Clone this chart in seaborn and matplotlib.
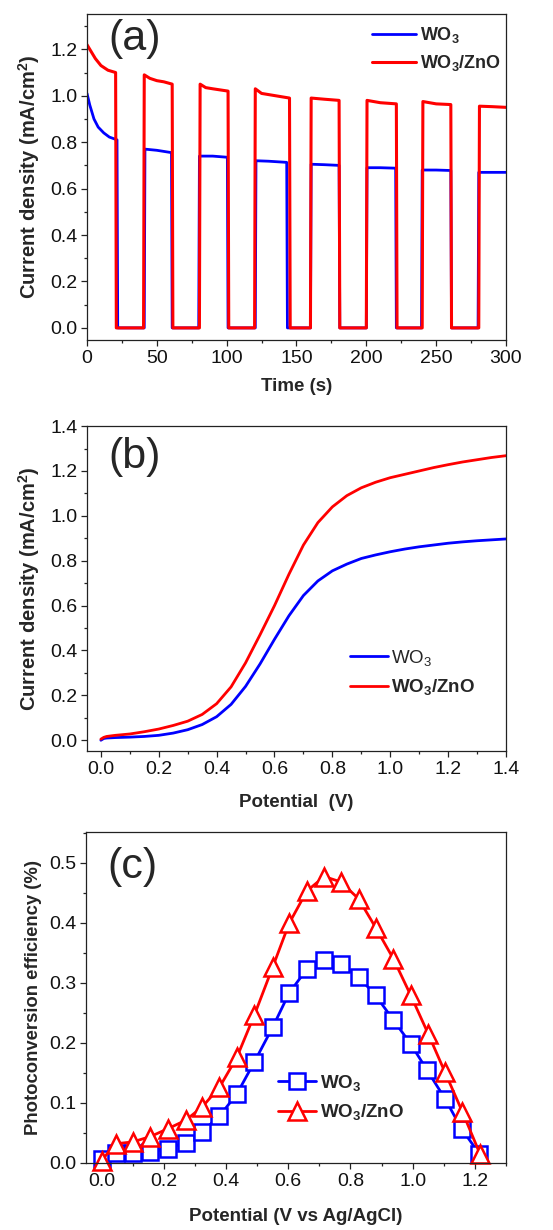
import numpy as np
import pandas as pd
import matplotlib
matplotlib.use("Agg")
import matplotlib.pyplot as plt
from matplotlib.ticker import MultipleLocator, FormatStrFormatter
import seaborn as sns

# ---------------- data ----------------
# (a) chopped-light transient (time s, current density mA/cm2)
t_wo3 = [0, 2, 5, 8, 12, 16, 21.5, 22, 41, 41.5, 50, 60.5, 61, 80, 80.5, 90, 100.5, 101,
         120.5, 121, 130, 143, 143.5, 160, 160.5, 170, 180.5, 181, 200, 200.5, 210, 221,
         221.5, 239.5, 240, 250, 260.5, 261, 280, 280.5, 290, 300]
j_wo3 = [1.01, 0.96, 0.90, 0.865, 0.84, 0.822, 0.81, 0.0, 0.0, 0.77, 0.765, 0.755, 0.0, 0.0,
         0.74, 0.74, 0.735, 0.0, 0.0, 0.72, 0.718, 0.713, 0.0, 0.0, 0.705, 0.703, 0.70, 0.0,
         0.0, 0.69, 0.69, 0.688, 0.0, 0.0, 0.68, 0.68, 0.678, 0.0, 0.0, 0.67, 0.67, 0.67]
t_zno = [0, 3, 6, 10, 15, 20.5, 21, 40.5, 41, 45, 50, 55, 61, 61.5, 80.5, 81, 85, 90, 101,
         101.5, 120, 120.5, 125, 135, 145, 145.5, 160, 160.5, 170, 180.5, 181, 200, 200.5,
         210, 221.5, 222, 240, 240.5, 250, 260.5, 261, 280.5, 281, 290, 300]
j_zno = [1.22, 1.19, 1.16, 1.13, 1.11, 1.10, 0.0, 0.0, 1.09, 1.075, 1.065, 1.06, 1.05, 0.0,
         0.0, 1.05, 1.035, 1.03, 1.02, 0.0, 0.0, 1.03, 1.01, 1.0, 0.99, 0.0, 0.0, 0.99, 0.985,
         0.98, 0.0, 0.0, 0.98, 0.97, 0.965, 0.0, 0.0, 0.975, 0.965, 0.962, 0.0, 0.0, 0.955,
         0.953, 0.95]

# (b) linear sweep voltammetry (potential V, current density mA/cm2)
v_lsv = [0.0, 0.01, 0.02, 0.05, 0.1, 0.15, 0.2, 0.25, 0.3, 0.35, 0.4, 0.45, 0.5, 0.55,
         0.6, 0.65, 0.7, 0.75, 0.8, 0.85, 0.9, 0.95, 1.0, 1.05, 1.1, 1.15, 1.2, 1.25, 1.3,
         1.35, 1.4]
j_lsv_wo3 = [0.0, 0.008, 0.010, 0.012, 0.014, 0.017, 0.022, 0.032, 0.047, 0.070, 0.105,
             0.160, 0.240, 0.340, 0.450, 0.555, 0.645, 0.710, 0.755, 0.785, 0.810, 0.826,
             0.840, 0.852, 0.862, 0.870, 0.878, 0.884, 0.889, 0.893, 0.897]
j_lsv_zno = [0.005, 0.013, 0.017, 0.022, 0.028, 0.038, 0.050, 0.066, 0.085, 0.115, 0.163,
             0.238, 0.345, 0.470, 0.600, 0.740, 0.870, 0.970, 1.040, 1.090, 1.125, 1.150,
             1.170, 1.185, 1.200, 1.215, 1.228, 1.240, 1.250, 1.260, 1.268]

# (c) photoconversion efficiency (potential V vs Ag/AgCl, %)
v_wo3 = [0.0, 0.045, 0.10, 0.157, 0.213, 0.27, 0.323, 0.379, 0.435, 0.491, 0.55, 0.603,
         0.66, 0.716, 0.769, 0.826, 0.881, 0.938, 0.994, 1.047, 1.104, 1.157, 1.214]
eff_wo3 = [0.007, 0.017, 0.016, 0.018, 0.024, 0.034, 0.052, 0.078, 0.115, 0.168, 0.226,
           0.283, 0.323, 0.338, 0.331, 0.310, 0.279, 0.238, 0.198, 0.154, 0.107, 0.057, 0.0155]
v_zno = [0.0, 0.045, 0.10, 0.157, 0.213, 0.27, 0.323, 0.379, 0.435, 0.491, 0.55, 0.603,
         0.66, 0.716, 0.769, 0.826, 0.881, 0.938, 0.994, 1.05, 1.104, 1.16, 1.216]
eff_zno = [0.004, 0.032, 0.035, 0.044, 0.057, 0.071, 0.093, 0.126, 0.176, 0.246, 0.326,
           0.399, 0.453, 0.477, 0.468, 0.44, 0.392, 0.34, 0.279, 0.215, 0.151, 0.085, 0.0155]

label_wo3 = r"WO$_3$"
label_zno = r"WO$_3$/ZnO"
BLUE = "#0000FF"
RED = "#FF0000"

# ---------------- style ----------------
sns.set_theme(style="ticks")
plt.rcParams['font.family'] = ['Liberation Sans', 'DejaVu Sans']
plt.rcParams['mathtext.default'] = 'regular'

fig = plt.figure(figsize=(5.53, 12.30), dpi=100)
ax_a = fig.add_axes([0.1573, 0.7236, 0.7577, 0.2650])
ax_b = fig.add_axes([0.1573, 0.3894, 0.7577, 0.2642])
ax_c = fig.add_axes([0.1555, 0.0545, 0.7595, 0.2690])

TICK_FS = 14
LAB_FS = 13.5


def style_axes(ax):
    for s in ax.spines.values():
        s.set_visible(True)
        s.set_linewidth(0.9)
        s.set_color('#222222')
    ax.tick_params(which='major', direction='out', length=4, width=0.9,
                   labelsize=TICK_FS, colors='#222222', labelcolor='#111111', pad=3)
    ax.tick_params(which='minor', direction='out', length=2.5, width=0.9, colors='#222222')
    ax.tick_params(top=False, right=False, which='both')


# ---- (a)
df_a1 = pd.DataFrame({"t": t_wo3, "j": j_wo3})
df_a2 = pd.DataFrame({"t": t_zno, "j": j_zno})
sns.lineplot(data=df_a1, x="t", y="j", ax=ax_a, sort=False, estimator=None,
             color=BLUE, lw=2.0, label=label_wo3)
sns.lineplot(data=df_a2, x="t", y="j", ax=ax_a, sort=False, estimator=None,
             color=RED, lw=2.2, label=label_zno)
ax_a.set_xlim(0, 300)
ax_a.set_ylim(-0.052, 1.352)
ax_a.xaxis.set_major_locator(MultipleLocator(50))
ax_a.xaxis.set_minor_locator(MultipleLocator(25))
ax_a.yaxis.set_major_locator(MultipleLocator(0.2))
ax_a.yaxis.set_minor_locator(MultipleLocator(0.1))
ax_a.yaxis.set_major_formatter(FormatStrFormatter('%.1f'))
ax_a.set_xlabel("Time (s)", fontsize=LAB_FS, fontweight='bold', labelpad=8)
ax_a.set_ylabel("Current density (mA/cm$^2$)", fontsize=14.5, fontweight='bold', labelpad=6)
style_axes(ax_a)
ax_a.text(0.05, 0.985, "(a)", transform=ax_a.transAxes, fontsize=31, va='top', ha='left')
ax_a.legend(loc='upper left', bbox_to_anchor=(0.655, 1.0), frameon=False,
            handlelength=2.4, handletextpad=0.25, labelspacing=0.45,
            borderaxespad=0.2, prop={'size': 13, 'weight': 'bold'})

# ---- (b)
df_b = pd.DataFrame({"v": v_lsv, "w": j_lsv_wo3, "z": j_lsv_zno})
sns.lineplot(data=df_b, x="v", y="w", ax=ax_b, color=BLUE, lw=2.0, label=label_wo3)
sns.lineplot(data=df_b, x="v", y="z", ax=ax_b, color=RED, lw=2.0, label=label_zno)
ax_b.set_xlim(-0.048, 1.4)
ax_b.set_ylim(-0.048, 1.4)
ax_b.xaxis.set_major_locator(MultipleLocator(0.2))
ax_b.xaxis.set_minor_locator(MultipleLocator(0.1))
ax_b.yaxis.set_major_locator(MultipleLocator(0.2))
ax_b.yaxis.set_minor_locator(MultipleLocator(0.1))
ax_b.xaxis.set_major_formatter(FormatStrFormatter('%.1f'))
ax_b.yaxis.set_major_formatter(FormatStrFormatter('%.1f'))
ax_b.set_xlabel("Potential  (V)", fontsize=LAB_FS, fontweight='bold', labelpad=12)
ax_b.set_ylabel("Current density (mA/cm$^2$)", fontsize=14.5, fontweight='bold', labelpad=6)
style_axes(ax_b)
ax_b.text(0.05, 0.965, "(b)", transform=ax_b.transAxes, fontsize=31, va='top', ha='left')
leg_b = ax_b.legend(loc='upper left', bbox_to_anchor=(0.61, 0.34), frameon=False,
                    handlelength=2.0, handletextpad=0.2, labelspacing=0.5,
                    borderaxespad=0.0, prop={'size': 13.5})
for txt in leg_b.get_texts():
    if "ZnO" in txt.get_text():
        txt.set_fontweight('bold')

# ---- (c)
df_c1 = pd.DataFrame({"v": v_wo3, "e": eff_wo3})
df_c2 = pd.DataFrame({"v": v_zno, "e": eff_zno})
sns.lineplot(data=df_c1, x="v", y="e", ax=ax_c, color=BLUE, lw=2.0, marker='s',
             markersize=11, markerfacecolor='white', markeredgecolor=BLUE,
             markeredgewidth=1.8, clip_on=False, label=label_wo3)
sns.lineplot(data=df_c2, x="v", y="e", ax=ax_c, color=RED, lw=2.0, marker='^',
             markersize=13, markerfacecolor='white', markeredgecolor=RED,
             markeredgewidth=1.8, clip_on=False, label=label_zno)
ax_c.set_xlim(-0.05, 1.3)
ax_c.set_ylim(0, 0.551)
ax_c.xaxis.set_major_locator(MultipleLocator(0.2))
ax_c.xaxis.set_minor_locator(MultipleLocator(0.1))
ax_c.yaxis.set_major_locator(MultipleLocator(0.1))
ax_c.yaxis.set_minor_locator(MultipleLocator(0.05))
ax_c.xaxis.set_major_formatter(FormatStrFormatter('%.1f'))
ax_c.yaxis.set_major_formatter(FormatStrFormatter('%.1f'))
ax_c.set_xlabel("Potential (V vs Ag/AgCl)", fontsize=LAB_FS, fontweight='bold', labelpad=13)
ax_c.set_ylabel("Photoconversion efficiency (%)", fontsize=13.3, fontweight='bold', labelpad=5)
style_axes(ax_c)
ax_c.text(0.05, 0.955, "(c)", transform=ax_c.transAxes, fontsize=31, va='top', ha='left')
ax_c.legend(loc='upper left', bbox_to_anchor=(0.44, 0.295), frameon=False,
            handlelength=2.0, handletextpad=0.2, labelspacing=0.5,
            borderaxespad=0.0, prop={'size': 13.5, 'weight': 'bold'})

fig.savefig("out.png", dpi=100)
